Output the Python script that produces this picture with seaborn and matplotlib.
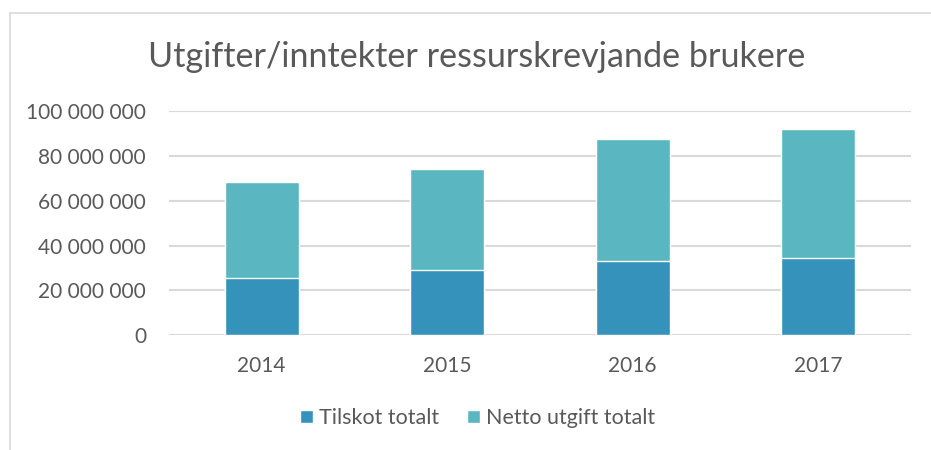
import pandas as pd
import matplotlib
matplotlib.use("Agg")
import matplotlib.pyplot as plt
from matplotlib.ticker import FuncFormatter, MultipleLocator
from matplotlib.lines import Line2D
from matplotlib.patches import Patch
import seaborn as sns

# data
years = ["2014", "2015", "2016", "2017"]
tilskot = [25.6e6, 29.2e6, 33.2e6, 34.4e6]
netto = [42.7e6, 45.0e6, 54.3e6, 57.7e6]

C_TILSKOT = "#3593BB"
C_NETTO = "#5AB6C0"
TXT = "#595959"
GRID = "#D9D9D9"

sns.set_theme(style="white")
plt.rcParams['font.family'] = ['Lato', 'DejaVu Sans']

df = pd.DataFrame({"year": years, "tilskot": tilskot, "netto": netto})
df["total"] = df["tilskot"] + df["netto"]

fig = plt.figure(figsize=(9.31, 4.5), dpi=100)
ax = fig.add_axes([0.1815, 0.2556, 0.797, 0.4971])

# stacked look: full total first, tilskot drawn over it
sns.barplot(data=df, x="year", y="total", color=C_NETTO, saturation=1,
            width=0.4, ax=ax, zorder=2)
sns.barplot(data=df, x="year", y="tilskot", color=C_TILSKOT, saturation=1,
            width=0.4, ax=ax, zorder=3)

ax.set_ylim(0, 100e6)
ax.set_xlim(-0.5, 3.5)
ax.yaxis.set_major_locator(MultipleLocator(20e6))
ax.yaxis.set_major_formatter(FuncFormatter(lambda v, _: f"{int(v):,}".replace(",", " ")))
ax.grid(axis="y", color=GRID, linewidth=1.5, zorder=0)
ax.set_axisbelow(True)
sns.despine(ax=ax, left=True, bottom=True, top=True, right=True)
ax.tick_params(axis="both", length=0, labelsize=15, labelcolor=TXT)
ax.tick_params(axis="y", pad=16.5)
ax.tick_params(axis="x", pad=15)
ax.set_xlabel("")
ax.set_ylabel("")

fig.text(0.512, 0.873, "Utgifter/inntekter ressurskrevjande brukere",
         ha="center", va="center", fontsize=24.6, color=TXT)

handles = [Patch(facecolor=C_TILSKOT, label="Tilskot totalt"),
           Patch(facecolor=C_NETTO, label="Netto utgift totalt")]
fig.legend(handles=handles, loc="center", bbox_to_anchor=(0.513, 0.071),
           ncol=2, frameon=False, fontsize=15.5, labelcolor=TXT,
           handlelength=0.6, handleheight=0.6, handletextpad=0.3,
           columnspacing=1.3)

# chart frame (top and left edges visible in the crop)
fig.add_artist(Line2D([10 / 931, 1.0], [1 - 12.5 / 450, 1 - 12.5 / 450],
                      transform=fig.transFigure, color="#D9D9D9", linewidth=1.2))
fig.add_artist(Line2D([9.5 / 931, 9.5 / 931], [0, 1 - 12.5 / 450],
                      transform=fig.transFigure, color="#D9D9D9", linewidth=1.2))

fig.savefig("out.png", dpi=100)
